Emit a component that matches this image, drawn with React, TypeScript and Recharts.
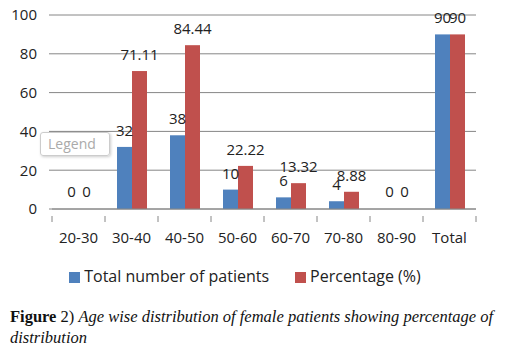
import { Bar, BarChart, CartesianGrid, LabelList, Legend, XAxis, YAxis } from "recharts";

const ageGroups = ["20-30", "30-40", "40-50", "50-60", "60-70", "70-80", "80-90", "Total"];
const patientCounts = [0, 32, 38, 10, 6, 4, 0, 90];
const percentages = [0, 71.11, 84.44, 22.22, 13.32, 8.88, 0, 90];
const yTicks = [0, 20, 40, 60, 80, 100];

const data = ageGroups.map((group, i) => ({
  group,
  total: patientCounts[i],
  percent: percentages[i]
}));

const FONT = "'Open Sans', sans-serif";
const AXIS_GREY = "#868686";
const BAND = 53;

function CategoryTick(props: any) {
  const { x, y, payload, index } = props;
  const isLast = index === ageGroups.length - 1;
  return (
    <g>
      <line x1={x - BAND / 2} y1={y - 1} x2={x - BAND / 2} y2={y + 5} stroke={AXIS_GREY} />
      {isLast && <line x1={x + BAND / 2} y1={y - 1} x2={x + BAND / 2} y2={y + 5} stroke={AXIS_GREY} />}
      <text x={x} y={y + 26} textAnchor="middle" fontSize={15} fill="#222" fontFamily={FONT}>
        {payload.value}
      </text>
    </g>
  );
}

// draws the value above each bar, zero values included
function ValueLabel(props: any) {
  const { x, y, width, value } = props;
  return (
    <text x={x + width / 2} y={y - 11} textAnchor="middle" fontSize={15} fill="#222" fontFamily={FONT}>
      {value}
    </text>
  );
}

// zero bars keep a 1px stub so their label is placed, but the stub is not painted
function BarShape(props: any) {
  const { x, y, width, height, fill } = props;
  if (height <= 1.01) return <g />;
  return <rect x={x} y={y} width={width} height={height} fill={fill} />;
}

export default function App() {
  return (
    <div style={{ position: "absolute", left: 0, top: 0, width: 508, height: 357, background: "#fff" }}>
      <BarChart
        width={508}
        height={290}
        data={data}
        margin={{ top: 15, right: 32, bottom: 3, left: 0 }}
        barGap={0}
        barSize={15}
      >
        <CartesianGrid vertical={false} stroke={AXIS_GREY} />
        <XAxis
          dataKey="group"
          interval={0}
          height={56}
          tickLine={false}
          stroke={AXIS_GREY}
          tick={<CategoryTick />}
        />
        <YAxis
          domain={[0, 100]}
          ticks={yTicks}
          width={52}
          axisLine={false}
          tickSize={3}
          tickMargin={12}
          stroke={AXIS_GREY}
          tick={{ fontSize: 15, fill: "#222", fontFamily: FONT }}
        />
        <Legend
          verticalAlign="bottom"
          iconType="square"
          iconSize={11}
          itemSorter={(item: any) => (item.dataKey === "total" ? 0 : 1)}
          wrapperStyle={{ fontSize: 16, fontFamily: FONT, color: "#222", paddingLeft: 12 }}
          formatter={(value: string, entry: any) => (
            <span style={{ color: "#222", marginRight: entry.dataKey === "total" ? 16 : 0 }}>{value}</span>
          )}
        />
        <Bar
          dataKey="total"
          name="Total number of patients"
          fill="#4F81BD"
          minPointSize={1}
          shape={<BarShape />}
          isAnimationActive={false}
        >
          <LabelList dataKey="total" content={<ValueLabel />} />
        </Bar>
        <Bar
          dataKey="percent"
          name="Percentage  (%)"
          fill="#C0504D"
          minPointSize={1}
          shape={<BarShape />}
          isAnimationActive={false}
        >
          <LabelList dataKey="percent" content={<ValueLabel />} />
        </Bar>
      </BarChart>
      <div
        style={{
          position: "absolute",
          left: 40,
          top: 132,
          width: 70,
          height: 24,
          border: "1px solid #ccc",
          borderRadius: 3,
          background: "rgba(255,255,255,0.85)",
          boxShadow: "1px 1px 3px rgba(0,0,0,0.2)",
          color: "#aaa",
          fontFamily: FONT,
          fontSize: 14,
          lineHeight: "22px",
          paddingLeft: 7,
          boxSizing: "border-box"
        }}
      >
        Legend
      </div>
      <div
        style={{
          position: "absolute",
          left: 10,
          top: 306,
          width: 496,
          fontFamily: "'Liberation Serif', serif",
          fontSize: 16.5,
          lineHeight: "21px",
          color: "#111",
          whiteSpace: "pre"
        }}
      >
        <b>Figure</b> 2) <i>Age wise distribution of female patients showing percentage of</i>
        {"\n"}
        <i>distribution</i>
      </div>
    </div>
  );
}
